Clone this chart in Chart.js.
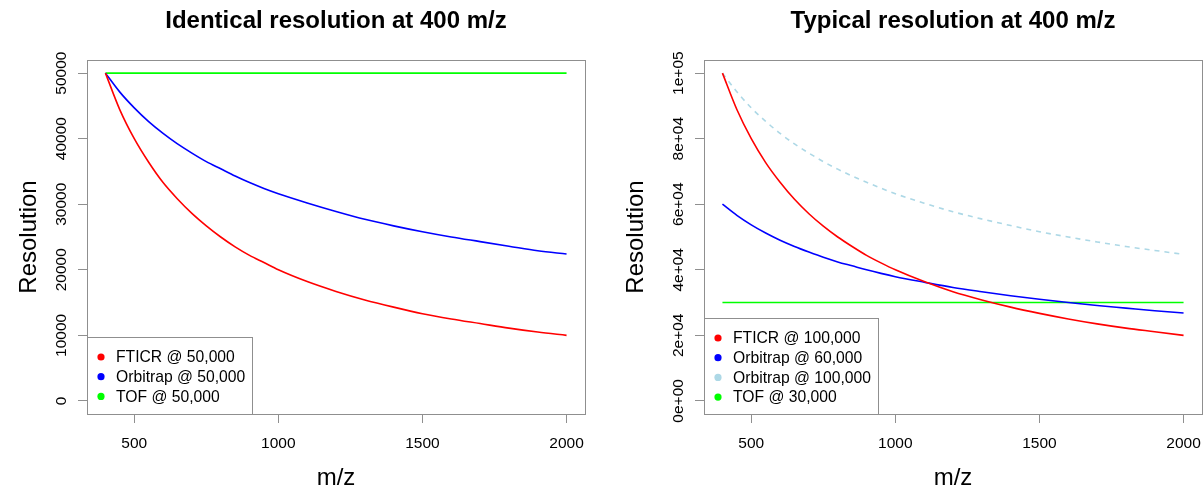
<!DOCTYPE html>
<html>
<head>
<meta charset="utf-8">
<script src="https://cdn.jsdelivr.net/npm/chart.js@4.4.1/dist/chart.umd.min.js"></script>
<style>
  html, body { margin: 0; padding: 0; background: #fff; }
  .panel { position: absolute; top: 0; width: 601px; height: 490px; }
  #leftPanel { left: 0; }
  #rightPanel { left: 602px; }
</style>
</head>
<body>
<div class="panel" id="leftPanel"><canvas id="leftChart"></canvas></div>
<div class="panel" id="rightPanel"><canvas id="rightChart"></canvas></div>
<script>
const mzValues = [400, 450, 500, 550, 600, 650, 700, 750, 800, 850, 900, 950, 1000, 1100, 1200, 1300, 1400, 1500, 1600, 1700, 1800, 1900, 2000];
const xTicks = [500, 1000, 1500, 2000];

// left panel: identical resolution at 400 m/z
const leftFticr    = [50000, 44400, 40000, 36400, 33300, 30800, 28600, 26700, 25000, 23500, 22200, 21100, 20000, 18200, 16700, 15400, 14300, 13300, 12500, 11800, 11100, 10500, 10000];
const leftOrbitrap = [50000, 47100, 44700, 42600, 40800, 39200, 37800, 36500, 35400, 34300, 33300, 32400, 31600, 30200, 28900, 27700, 26700, 25800, 25000, 24300, 23600, 22900, 22400];
const leftTof      = [50000, 50000, 50000, 50000, 50000, 50000, 50000, 50000, 50000, 50000, 50000, 50000, 50000, 50000, 50000, 50000, 50000, 50000, 50000, 50000, 50000, 50000, 50000];
const leftYTicks = [0, 10000, 20000, 30000, 40000, 50000];
const leftYTickLabels = ["0", "10000", "20000", "30000", "40000", "50000"];

// right panel: typical resolution at 400 m/z
const rightFticr       = [100000, 88900, 80000, 72700, 66700, 61500, 57100, 53300, 50000, 47100, 44400, 42100, 40000, 36400, 33300, 30800, 28600, 26700, 25000, 23500, 22200, 21100, 20000];
const rightOrbitrap60  = [60000, 56600, 53700, 51200, 49000, 47100, 45400, 43800, 42400, 41200, 40000, 38900, 37900, 36200, 34600, 33300, 32100, 31000, 30000, 29100, 28300, 27500, 26800];
const rightOrbitrap100 = [100000, 94300, 89400, 85300, 81600, 78400, 75600, 73000, 70700, 68600, 66700, 64900, 63200, 60300, 57700, 55500, 53500, 51600, 50000, 48500, 47100, 45900, 44700];
const rightTof         = [30000, 30000, 30000, 30000, 30000, 30000, 30000, 30000, 30000, 30000, 30000, 30000, 30000, 30000, 30000, 30000, 30000, 30000, 30000, 30000, 30000, 30000, 30000];
const rightYTicks = [0, 20000, 40000, 60000, 80000, 100000];
const rightYTickLabels = ["0e+00", "2e+04", "4e+04", "6e+04", "8e+04", "1e+05"];

const FONT = "'Liberation Sans', Arial, sans-serif";
const FRAME = "#8f8f8f";

function toPoints(values) {
    return mzValues.map((x, i) => ({ x: x, y: values[i] }));
}

function series(label, values, color, dash) {
    return {
        label: label,
        data: toPoints(values),
        borderColor: color,
        backgroundColor: color,
        borderWidth: 1.6,
        borderDash: dash || [],
        pointRadius: 0,
        cubicInterpolationMode: "monotone",
        fill: false
    };
}

// R-style frame, rotated y labels, titles and legend
const rStylePlugin = {
    id: "rStyle",
    afterDraw(chart, args, opts) {
        const ctx = chart.ctx;
        const area = chart.chartArea;
        const yScale = chart.scales.y;
        ctx.save();

        // box around the plot region
        ctx.strokeStyle = FRAME;
        ctx.lineWidth = 1;
        ctx.strokeRect(Math.round(area.left) + 0.5, Math.round(area.top) + 0.5,
            Math.round(area.right - area.left), Math.round(area.bottom - area.top));

        // y tick labels, parallel to the axis
        ctx.fillStyle = "#000";
        ctx.font = "15.5px " + FONT;
        ctx.textAlign = "center";
        ctx.textBaseline = "middle";
        opts.yTicks.forEach((v, i) => {
            const py = yScale.getPixelForValue(v);
            ctx.save();
            ctx.translate(area.left - opts.yLabelGap, py);
            ctx.rotate(-Math.PI / 2);
            ctx.fillText(opts.yLabels[i], 0, 0);
            ctx.restore();
        });

        const midX = (area.left + area.right) / 2;
        const midY = (area.top + area.bottom) / 2;

        // main title
        ctx.font = "bold 24px " + FONT;
        ctx.fillText(opts.title, midX, 21);

        // axis titles
        ctx.font = "24px " + FONT;
        ctx.fillText("m/z", midX, 478);
        ctx.save();
        ctx.translate(area.left - opts.yTitleGap, midY);
        ctx.rotate(-Math.PI / 2);
        ctx.fillText("Resolution", 0, 0);
        ctx.restore();

        // legend in the bottom-left corner
        const sets = chart.data.datasets;
        const rowH = 19.7;
        ctx.font = "15.7px " + FONT;
        let maxW = 0;
        sets.forEach(ds => { maxW = Math.max(maxW, ctx.measureText(ds.label).width); });
        const boxLeft = Math.round(area.left) + 0.5;
        const boxBottom = Math.round(area.bottom) + 0.5;
        const boxTop = Math.round(opts.legendTop) + 0.5;
        const boxW = Math.round(29 + maxW + 7);
        ctx.fillStyle = "#fff";
        ctx.fillRect(boxLeft, boxTop, boxW, boxBottom - boxTop);
        ctx.strokeStyle = FRAME;
        ctx.strokeRect(boxLeft, boxTop, boxW, boxBottom - boxTop);
        ctx.textAlign = "left";
        sets.forEach((ds, i) => {
            const cy = opts.legendTop + 20 + i * rowH;
            ctx.fillStyle = ds.borderColor;
            ctx.beginPath();
            ctx.arc(area.left + 14, cy, 3.6, 0, Math.PI * 2);
            ctx.fill();
            ctx.fillStyle = "#000";
            ctx.fillText(ds.label, area.left + 29, cy + 1);
        });

        ctx.restore();
    }
};

function buildOptions(cfg) {
    return {
        responsive: false,
        animation: false,
        layout: { padding: { top: 60, right: cfg.padRight, left: 0, bottom: 0 } },
        plugins: {
            legend: { display: false },
            title: { display: false },
            tooltip: { enabled: false },
            rStyle: cfg.rStyle
        },
        scales: {
            x: {
                type: "linear",
                min: 336,
                max: 2064,
                afterBuildTicks: s => { s.ticks = xTicks.map(v => ({ value: v })); },
                afterFit: s => { s.height = 76; s.paddingLeft = 0; s.paddingRight = 0; },
                ticks: {
                    color: "#000",
                    font: { family: FONT, size: 15.5 },
                    padding: 11,
                    maxRotation: 0,
                    callback: v => String(v)
                },
                grid: { drawOnChartArea: false, drawTicks: true, tickLength: 9, tickColor: FRAME },
                border: { display: true, color: FRAME }
            },
            y: {
                type: "linear",
                min: cfg.yMin,
                max: cfg.yMax,
                afterBuildTicks: s => { s.ticks = cfg.yTicks.map(v => ({ value: v })); },
                afterFit: s => { s.width = cfg.yWidth; s.paddingTop = 0; s.paddingBottom = 0; },
                ticks: { display: false },
                grid: { drawOnChartArea: false, drawTicks: true, tickLength: 9, tickColor: FRAME },
                border: { display: true, color: FRAME }
            }
        }
    };
}

function makeCanvas(id) {
    const canvas = document.getElementById(id);
    canvas.width = 601;
    canvas.height = 490;
    canvas.style.width = "601px";
    canvas.style.height = "490px";
    return canvas;
}

let leftChart = new Chart(makeCanvas("leftChart"), {
    type: "line",
    data: {
        datasets: [
            series("FTICR @ 50,000", leftFticr, "#ff0000"),
            series("Orbitrap @ 50,000", leftOrbitrap, "#0000ff"),
            series("TOF @ 50,000", leftTof, "#00ff00")
        ]
    },
    options: buildOptions({
        padRight: 16,
        yWidth: 87,
        yMin: -2000,
        yMax: 52000,
        yTicks: leftYTicks,
        rStyle: {
            title: "Identical resolution at 400 m/z",
            yTicks: leftYTicks,
            yLabels: leftYTickLabels,
            yLabelGap: 25,
            yTitleGap: 58,
            legendTop: 337
        }
    }),
    plugins: [rStylePlugin]
});

let rightChart = new Chart(makeCanvas("rightChart"), {
    type: "line",
    data: {
        datasets: [
            series("FTICR @ 100,000", rightFticr, "#ff0000"),
            series("Orbitrap @ 60,000", rightOrbitrap60, "#0000ff"),
            series("Orbitrap @ 100,000", rightOrbitrap100, "#add8e6", [5, 5]),
            series("TOF @ 30,000", rightTof, "#00ff00")
        ]
    },
    options: buildOptions({
        padRight: 1,
        yWidth: 102,
        yMin: -4000,
        yMax: 104000,
        yTicks: rightYTicks,
        rStyle: {
            title: "Typical resolution at 400 m/z",
            yTicks: rightYTicks,
            yLabels: rightYTickLabels,
            yLabelGap: 25,
            yTitleGap: 68,
            legendTop: 318
        }
    }),
    plugins: [rStylePlugin]
});
</script>
</body>
</html>
